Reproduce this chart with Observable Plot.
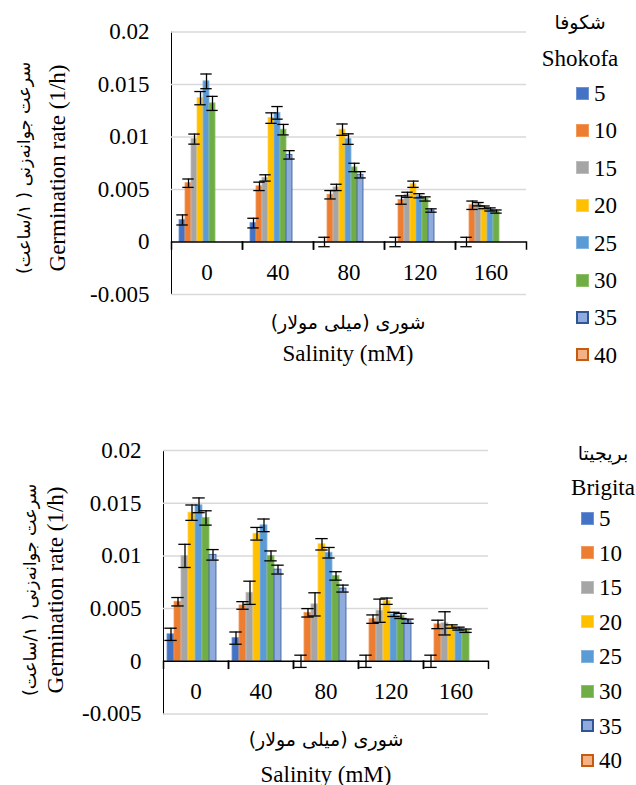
<!DOCTYPE html>
<html><head><meta charset="utf-8">
<script src="https://cdn.jsdelivr.net/npm/d3@7"></script>
<script src="https://cdn.jsdelivr.net/npm/@observablehq/plot@0.6"></script>
<style>
html,body{margin:0;padding:0;background:#fff;}
#root{position:relative;width:636px;height:785px;overflow:hidden;font-family:"Liberation Serif","Times New Roman",Tinos,"DejaVu Serif",serif;color:#000;}
.abs{position:absolute;white-space:nowrap;line-height:1;}
.c{transform:translate(-50%,-50%);}
.rot{transform:translate(-50%,-50%) rotate(-90deg);}
.fa{font-family:"DejaVu Sans",sans-serif;font-size:19px;}
.fy{font-size:17.5px;}
.en{font-family:"Liberation Serif","Times New Roman",Tinos,"DejaVu Serif",serif;font-size:23px;}
.sw{position:absolute;width:13px;height:13px;box-sizing:border-box;}
.lab{position:absolute;font-family:"Liberation Serif","Times New Roman",Tinos,"DejaVu Serif",serif;font-size:23px;line-height:1;transform:translateY(-50%);}
</style></head><body><div id="root"></div>
<script>
// ---- data ----
const salinity = [0, 40, 80, 120, 160];
const temperatures = [5, 10, 15, 20, 25, 30, 35, 40];
const tickValues = [-0.005, 0, 0.005, 0.01, 0.015, 0.02];
const tickLabels = ["-0.005", "0", "0.005", "0.01", "0.015", "0.02"];
const xTitleFa = "شوری (میلی مولار)";
const xTitleEn = "Salinity (mM)";
const yTitleFa = "سرعت جوانەزنی ( ۱/ساعت)";
const yTitleEn = "Germination rate (1/h)";

// Shokofa: one row per temperature, one value per salinity
const shokofaRate = [
  [0.0021, 0.0018, 0, 0, 0],
  [0.0056, 0.0053, 0.0045, 0.0040, 0.0035],
  [0.0098, 0.0061, 0.0052, 0.0045, 0.0036],
  [0.0137, 0.0118, 0.0107, 0.0055, 0.0033],
  [0.0153, 0.0123, 0.0098, 0.0044, 0.0031],
  [0.0132, 0.0107, 0.0071, 0.0041, 0.0029],
  [null, 0.0083, 0.0064, 0.0030, null],
  [null, null, null, null, null]
];
const shokofaError = [
  [0.00048, 0.00046, 0.00045, 0.00045, 0.00045],
  [0.0004, 0.0004, 0.0004, 0.0004, 0.0004],
  [0.00048, 0.0003, 0.0003, 0.00024, 0.00016],
  [0.00063, 0.0005, 0.00054, 0.0003, 0.00013],
  [0.0007, 0.0006, 0.0005, 0.0002, 0.00015],
  [0.00067, 0.0005, 0.0004, 0.0002, 0.00015],
  [null, 0.0004, 0.0003, 0.00016, null],
  [null, null, null, null, null]
];
// Brigita
const brigitaRate = [
  [0.00256, 0.0022, 0, 0, 0],
  [0.00565, 0.0053, 0.0046, 0.0040, 0.0035],
  [0.0100, 0.0065, 0.0054, 0.0048, 0.0036],
  [0.0141, 0.0121, 0.0111, 0.0057, 0.0033],
  [0.0148, 0.0129, 0.0103, 0.00445, 0.0031],
  [0.0136, 0.0100, 0.0081, 0.0043, 0.0029],
  [0.0101, 0.0087, 0.0069, 0.0038, null],
  [null, null, null, null, null]
];
const brigitaError = [
  [0.00058, 0.00058, 0.00058, 0.00058, 0.00058],
  [0.0004, 0.00036, 0.0004, 0.0004, 0.0004],
  [0.0011, 0.0011, 0.0011, 0.0011, 0.0011],
  [0.00073, 0.0006, 0.00054, 0.0003, 0.00016],
  [0.0007, 0.0006, 0.0005, 0.0002, 0.00014],
  [0.00068, 0.00047, 0.0004, 0.00024, 0.00016],
  [0.0005, 0.00042, 0.00033, 0.0002, null],
  [null, null, null, null, null]
];

// ---- styles ----
const fillColors = ["#4472C4", "#ED7D31", "#A5A5A5", "#FFC000", "#5B9BD5", "#70AD47", "#8FAADC", "#F4B183"];
const strokeColors = ["#6F93D6", "#F19A5C", "#BDBDBD", "#FFD04D", "#84B5E0", "#8FC16C", "#2F5597", "#C55A11"];
const FONT = '"Liberation Serif","Times New Roman",Tinos,"DejaVu Serif",serif';

function table(rate, error) {
  const rows = [];
  temperatures.forEach((t, i) => salinity.forEach((s, j) => {
    rows.push({sal: s, temp: t, v: rate[i][j], e: error[i][j]});
  }));
  return rows;
}

function chart(cfg) {
  const rows = table(cfg.rate, cfg.error);
  const bars = rows.filter(d => d.v != null && d.v > 0);
  const errs = rows.filter(d => d.v != null && d.e != null);
  const yPix = d3.scaleLinear([-0.005, 0.02], [cfg.height - cfg.mb, cfg.mt]);
  const zeroPx = yPix(0);
  const tickLen = 7;
  const common = {stroke: "#000", strokeWidth: 1.5, insetTop: zeroPx - cfg.mt, insetBottom: (cfg.height - cfg.mb) - (zeroPx + tickLen)};
  return Plot.plot({
    width: cfg.width, height: cfg.height,
    marginLeft: cfg.ml, marginRight: cfg.mr, marginTop: cfg.mt, marginBottom: cfg.mb,
    style: {fontFamily: FONT, fontSize: "23px", color: "#000", background: "transparent", overflow: "visible"},
    fx: {domain: salinity, padding: 0, axis: null},
    x: {domain: temperatures, paddingInner: 0, paddingOuter: cfg.po, align: cfg.align, axis: null},
    y: {domain: [-0.005, 0.02], ticks: tickValues, tickSize: 0, tickPadding: 22, line: true, label: null,
        tickFormat: d => tickLabels[tickValues.indexOf(d)]},
    color: {domain: temperatures, range: fillColors},
    marks: [
      Plot.ruleY(tickValues.filter(v => v !== 0), {stroke: "#D9D9D9", strokeWidth: 1.5}),
      Plot.barY(bars, {fx: "sal", x: "temp", y1: 0, y2: "v", fill: "temp",
        stroke: d => strokeColors[temperatures.indexOf(d.temp)], strokeWidth: 0.8}),
      Plot.ruleY([0], {stroke: "#000", strokeWidth: 1.5}),
      Plot.frame({anchor: "left", ...common}),
      Plot.frame({anchor: "right", ...common}),
      Plot.ruleX(errs, {fx: "sal", x: "temp", y1: d => d.v - d.e, y2: d => d.v + d.e, stroke: "#000", strokeWidth: 1.3}),
      Plot.tickY(errs, {fx: "sal", x: "temp", y: d => d.v + d.e, stroke: "#000", strokeWidth: 1.3, insetLeft: -2.7, insetRight: -2.7}),
      Plot.tickY(errs, {fx: "sal", x: "temp", y: d => d.v - d.e, stroke: "#000", strokeWidth: 1.3, insetLeft: -2.7, insetRight: -2.7}),
      Plot.text(salinity, {fx: d => d, text: d => String(d), y: -0.0029, fontSize: 23, fontFamily: FONT, fill: "#000", lineAnchor: "middle"})
    ]
  });
}

const root = document.getElementById("root");
function place(el, left, top) {
  el.style.position = "absolute"; el.style.left = left + "px"; el.style.top = top + "px";
  el.style.fontFamily = FONT;
  root.appendChild(el);
}
function label(text, cls, x, y) {
  const d = document.createElement("div");
  d.className = "abs " + cls;
  d.textContent = text;
  d.style.left = x + "px"; d.style.top = y + "px";
  root.appendChild(d);
  return d;
}
function legend(cfg) {
  label(cfg.titleFa, "c fa", cfg.tx, cfg.ty1);
  label(cfg.titleEn, "c en", cfg.tx, cfg.ty2);
  temperatures.forEach((t, i) => {
    const y = cfg.y0 + i * cfg.dy;
    const s = document.createElement("div");
    s.className = "sw";
    s.style.left = cfg.sx + "px"; s.style.top = (y - 6.5) + "px";
    s.style.background = fillColors[i];
    s.style.border = (i >= 6 ? "2px solid " : "1px solid ") + strokeColors[i];
    root.appendChild(s);
    const l = document.createElement("div");
    l.className = "lab";
    l.textContent = String(t);
    l.style.left = cfg.lx + "px"; l.style.top = y + "px";
    root.appendChild(l);
  });
}

// top chart: Shokofa
const top1 = chart({rate: shokofaRate, error: shokofaError, width: 540, height: 300,
  ml: 170, mr: 13, mt: 31.5, mb: 6, po: 1.1, align: 0.33});
place(top1, 0, 0);
label(yTitleFa, "rot fa fy", 25, 168);
label(yTitleEn, "rot en", 57, 168);
label(xTitleFa, "c fa", 348, 322);
label(xTitleEn, "c en", 348, 353);
legend({titleFa: "شکوفا", titleEn: "Shokofa", tx: 580, ty1: 22, ty2: 58, y0: 93, dy: 37.4, sx: 576, lx: 594});

// bottom chart: Brigita
const bot = chart({rate: brigitaRate, error: brigitaError, width: 500, height: 280,
  ml: 161, mr: 10, mt: 10, mb: 6.5, po: 0.63, align: 0.44});
place(bot, 0, 440);
label(yTitleFa, "rot fa fy", 31, 590);
label(yTitleEn, "rot en", 55, 590);
label(xTitleFa, "c fa", 326, 739);
label(xTitleEn, "c en", 326, 774);
legend({titleFa: "بریجیتا", titleEn: "Brigita", tx: 603, ty1: 453, ty2: 487, y0: 518, dy: 34.6, sx: 581, lx: 599});
</script></body></html>
